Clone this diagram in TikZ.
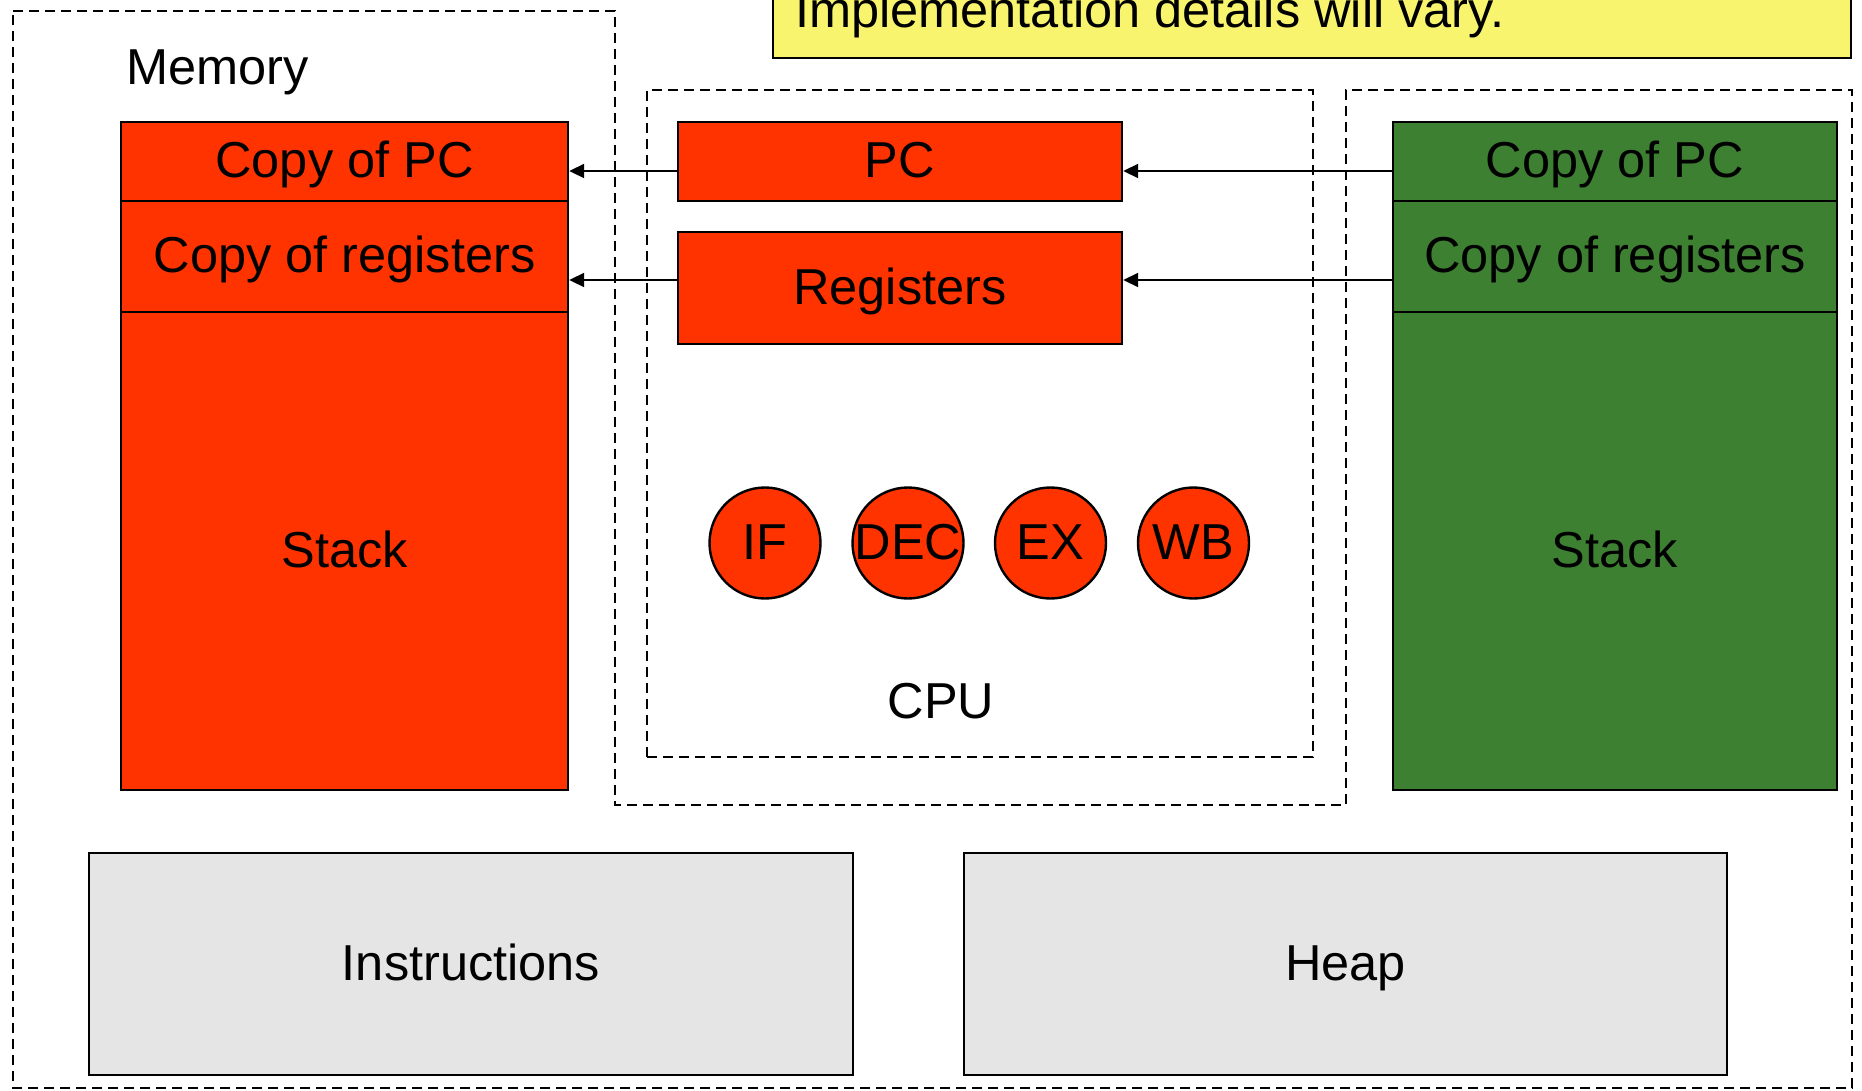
\documentclass[tikz,border=0pt]{standalone}
\usepackage{fontspec}
\setmainfont{Liberation Sans}
\usetikzlibrary{arrows.meta}
\definecolor{cellred}{RGB}{255,51,0}
\definecolor{cellgreen}{RGB}{61,128,50}
\definecolor{notey}{RGB}{249,244,110}
\definecolor{segray}{RGB}{229,229,229}
\begin{document}
\begin{tikzpicture}[x=1pt,y=-1pt,
  font=\fontsize{50.5}{60}\selectfont,
  box/.style={draw=black,line width=2.4pt,inner sep=0pt,
    text height=40.4pt,text depth=8.1pt},
  redbox/.style={box,fill=cellred},
  greenbox/.style={box,fill=cellgreen},
  graybox/.style={box,fill=segray},
  stage/.style={circle,draw=black,line width=2.4pt,fill=cellred,
    minimum size=111pt,inner sep=0pt,text height=40.4pt,text depth=8.1pt},
  region/.style={draw=black,line width=2pt,dash pattern=on 10pt off 6pt},
  arr/.style={line width=2pt,-{Triangle[length=15pt,width=14pt]}},
  lbl/.style={inner sep=0pt}]

\useasboundingbox (0,0) rectangle (1862,1090);
\clip (0,0) rectangle (1862,1090);

% note box, partly above the page
\fill[notey] (773,-60) rectangle (1851,58);
\draw[line width=2.4pt] (773,-60) rectangle (1851,58);
\node[lbl,anchor=base west] (notetext) at (795,27) {Implementation details will vary.};

% memory outline, wrapped around the CPU
\draw[region] (13,11) -- (615,11) -- (615,805) -- (1346,805) -- (1346,90)
  -- (1852,90) -- (1852,1088) -- (13,1088) -- cycle;
\node[lbl,anchor=base west] (memlabel) at (126,84) {Memory};

% CPU
\node[region,minimum width=666pt,minimum height=667pt,inner sep=0pt] (cpu) at (980,423.5) {};
\node[lbl,anchor=base] (cpulabel) at (941,718) {CPU};

\node[redbox,minimum width=444pt,minimum height=79pt] (pc) at (900,161.5) {PC};
\node[redbox,minimum width=444pt,minimum height=112pt] (reg) at (900,288) {Registers};

\node[stage] (if) at (765,543) {\makebox[0pt]{IF}};
\node[stage] (dec) at (908,543) {\makebox[0pt]{DEC}};
\node[stage] (ex) at (1050.5,543) {\makebox[0pt]{EX}};
\node[stage] (wb) at (1193.5,543) {\makebox[0pt]{WB}};

% saved state of the running thread
\node[redbox,minimum width=447pt,minimum height=79pt] (cpL) at (344.5,161.5) {Copy of PC};
\node[redbox,minimum width=447pt,minimum height=111pt] (regL) at (344.5,256.5) {Copy of registers};
\node[redbox,minimum width=447pt,minimum height=478pt] (stackL) at (344.5,551) {Stack};

% saved state of the other thread
\node[greenbox,minimum width=444pt,minimum height=79pt] (cpR) at (1615,161.5) {Copy of PC};
\node[greenbox,minimum width=444pt,minimum height=111pt] (regR) at (1615,256.5) {Copy of registers};
\node[greenbox,minimum width=444pt,minimum height=478pt] (stackR) at (1615,551) {Stack};

% shared segments
\node[graybox,minimum width=764pt,minimum height=222pt] (instr) at (471,964) {Instructions};
\node[graybox,minimum width=763pt,minimum height=222pt] (heap) at (1345.5,964) {Heap};

% context switch
\coordinate (pcin) at ([yshift=-9.5pt]cpR.west);
\coordinate (regin) at ([yshift=-23.5pt]regR.west);
\draw[arr] (pcin) -- (pcin -| pc.east);
\draw[arr] (regin) -- (regin -| reg.east);
\coordinate (pcout) at ([yshift=-9.5pt]pc.west);
\coordinate (regout) at (regin -| reg.west);
\draw[arr] (pcout) -- (pcout -| cpL.east);
\draw[arr] (regout) -- (regout -| regL.east);
\end{tikzpicture}
\end{document}
